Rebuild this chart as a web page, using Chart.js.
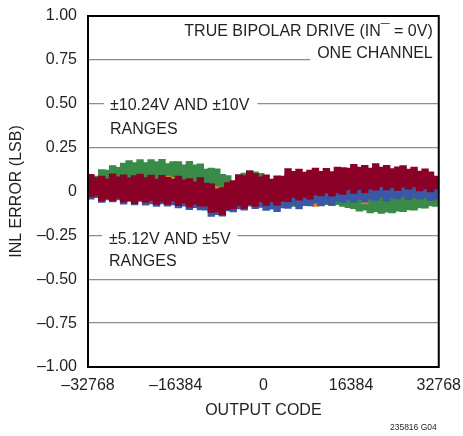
<!DOCTYPE html>
<html><head><meta charset="utf-8">
<script src="https://cdn.jsdelivr.net/npm/chart.js@4.4.1/dist/chart.umd.min.js"></script>
<style>html,body{margin:0;padding:0;background:#fff;}canvas{display:block;}</style>
</head><body>
<canvas id="c" width="463" height="436" style="width:463px;height:436px"></canvas>
<script>
// Output code bin centres (1024 codes per bin)
const codes = [-32256,-31232,-30208,-29184,-28160,-27136,-26112,-25088,-24064,-23040,-22016,-20992,-19968,-18944,-17920,-16896,
  -15872,-14848,-13824,-12800,-11776,-10752,-9728,-8704,-7680,-6656,-5632,-4608,-3584,-2560,-1536,-512,
  512,1536,2560,3584,4608,5632,6656,7680,8704,9728,10752,11776,12800,13824,14848,15872,
  16896,17920,18944,19968,20992,22016,23040,24064,25088,26112,27136,28160,29184,30208,31232,32256];

// INL error bands (LSB): min / max per bin
const crimsonHi = [0.097,0.079,0.087,0.072,0.100,0.083,0.095,0.078, 0.090,0.099,0.079,0.093,0.071,0.092,0.081,0.071,
  0.087,0.066,0.073,0.054,0.079,0.047,0.043,0.015, 0.022,0.051,0.062,0.096,0.091,0.117,0.101,0.083,
  0.095,0.071,0.089,0.088,0.130,0.115,0.128,0.110, 0.122,0.133,0.115,0.131,0.113,0.139,0.136,0.133,
  0.155,0.139,0.149,0.133,0.158,0.139,0.149,0.130, 0.140,0.148,0.127,0.139,0.116,0.129,0.111,0.088];
const crimsonLo = [-0.030,-0.024,-0.055,-0.041,-0.053,-0.038,-0.061,-0.052, -0.069,-0.051,-0.062,-0.050,-0.073,-0.059,-0.073,-0.055,
  -0.080,-0.066,-0.089,-0.072,-0.083,-0.083,-0.119,-0.116, -0.133,-0.101,-0.099,-0.080,-0.096,-0.075,-0.084,-0.059,
  -0.079,-0.059,-0.077,-0.054,-0.057,-0.034,-0.049,-0.033, -0.043,-0.019,-0.025,-0.008,-0.026,-0.007,-0.016,0.009,
  -0.010,0.011,-0.007,0.014,0.008,0.028,0.010,0.022, 0.006,0.025,0.014,0.026,0.004,0.015,-0.002,0.013];
const blueHi = [0.02,0.02,0.01,0.01,0.01,0.01,0.00,0.00, 0.00,0.00,0.00,-0.01,-0.01,-0.01,-0.01,-0.02,
  -0.02,-0.02,-0.03,-0.03,-0.03,-0.05,-0.06,-0.07, -0.07,-0.06,-0.05,-0.04,-0.04,-0.03,-0.03,-0.02,
  -0.02,-0.02,-0.02,-0.01,-0.01,0.00,0.00,0.01, 0.01,0.02,0.02,0.02,0.03,0.03,0.03,0.04,
  0.04,0.04,0.05,0.05,0.05,0.05,0.05,0.05, 0.05,0.05,0.05,0.05,0.05,0.05,0.04,0.04];
const blueLo = [-0.043,-0.035,-0.062,-0.048,-0.059,-0.047,-0.072,-0.056, -0.076,-0.056,-0.078,-0.070,-0.085,-0.070,-0.083,-0.076,
  -0.093,-0.083,-0.103,-0.092,-0.104,-0.106,-0.142,-0.131, -0.140,-0.110,-0.116,-0.099,-0.106,-0.083,-0.097,-0.091,
  -0.108,-0.100,-0.115,-0.093,-0.096,-0.079,-0.099,-0.078, -0.082,-0.066,-0.082,-0.069,-0.077,-0.055,-0.062,-0.049,
  -0.060,-0.045,-0.060,-0.044,-0.050,-0.033,-0.055,-0.036, -0.042,-0.028,-0.046,-0.035,-0.044,-0.034,-0.051,-0.044];
const orangeHi = [0.07,0.06,0.06,0.05,0.07,0.06,0.07,0.06, 0.07,0.07,0.06,0.07,0.05,0.07,0.088,0.08,
  0.06,0.05,0.05,0.04,0.05,0.03,0.03,0.028, 0.00,0.03,0.04,0.07,0.07,0.09,0.08,0.06,
  0.07,0.05,0.07,0.07,0.10,0.09,0.10,0.09, 0.10,0.10,0.09,0.10,0.09,0.11,0.11,0.11,
  0.12,0.11,0.12,0.11,0.12,0.11,0.12,0.10, 0.11,0.12,0.10,0.11,0.09,0.10,0.09,0.07];
const orangeLo = [-0.01,-0.01,-0.03,-0.02,-0.03,-0.02,-0.04,-0.03, -0.05,-0.03,-0.04,-0.03,-0.05,-0.04,-0.05,-0.03,
  -0.06,-0.04,-0.07,-0.05,-0.06,-0.06,-0.10,-0.09, -0.11,-0.08,-0.08,-0.06,-0.07,-0.05,-0.06,-0.04,
  -0.06,-0.04,-0.05,-0.03,-0.03,-0.01,-0.03,-0.01, -0.02,-0.085,0.00,0.01,0.00,0.01,0.00,0.03,
  0.01,0.03,-0.07,0.03,0.03,0.05,0.03,0.04, 0.03,0.05,0.03,0.05,0.03,0.04,0.02,0.03];
const greenHi = [0.091,0.088,0.125,0.121,0.147,0.137,0.161,0.176, 0.165,0.181,0.164,0.182,0.170,0.183,0.159,0.170,
  0.170,0.152,0.172,0.151,0.157,0.127,0.133,0.129, 0.098,0.090,0.058,0.088,0.105,0.118,0.112,0.103,
  0.070,0.03,0.03,0.02,0.02,0.02,0.01,0.01, 0.01,0.01,0.00,0.00,0.00,0.00,-0.01,-0.01,
  -0.01,-0.01,-0.01,-0.01,-0.01,-0.01,-0.01,-0.01, -0.01,-0.01,-0.01,-0.01,-0.01,-0.01,-0.01,-0.01];
const greenLo = [0.00,0.00,0.00,0.00,0.00,0.00,0.00,0.00, 0.00,0.00,0.00,0.00,0.00,0.00,0.00,0.00,
  0.00,0.00,0.00,0.00,0.00,0.00,0.00,0.00, 0.00,0.00,0.00,0.00,0.00,0.00,0.00,0.00,
  0.00,-0.090,-0.090,-0.085,-0.085,-0.085,-0.085,-0.080, -0.080,-0.075,-0.078,-0.075,-0.080,-0.075,-0.085,-0.092,
  -0.097,-0.112,-0.106,-0.121,-0.114,-0.125,-0.117,-0.121, -0.112,-0.114,-0.104,-0.106,-0.093,-0.095,-0.082,-0.085];

const xTickValues = [-32768,-16384,0,16384,32768];
const xTickLabels = ['\u201332768','\u201316384','0','16384','32768'];
const yTickValues = [-1,-0.75,-0.5,-0.25,0,0.25,0.5,0.75,1];
const yTickLabels = ['\u20131.00','\u20130.75','\u20130.50','\u20130.25','0','0.25','0.50','0.75','1.00'];

const FONT = '"Liberation Sans", Arial, Helvetica, sans-serif';
const TXT = '#231f20';
const CLEAR = 'rgba(0,0,0,0)';

function band(lo, hi){ return codes.map((c,i)=>({x:c, y:[lo[i], hi[i]]})); }
function lookup(vals, labels, v){ const i = vals.findIndex(t=>Math.abs(t-v)<1e-6); return i>=0 ? labels[i] : ''; }

const annot = {
  id:'annot',
  beforeDatasetsDraw(chart){
    const {ctx, chartArea:a, scales:{y}} = chart;
    ctx.save();
    ctx.font = '16px ' + FONT;
    ctx.textBaseline = 'middle';
    const g75 = y.getPixelForValue(0.75), g50 = y.getPixelForValue(0.5), gm25 = y.getPixelForValue(-0.25);
    const t1 = 'TRUE BIPOLAR DRIVE (IN\u00AF = 0V)', t2 = 'ONE CHANNEL';
    const rx = a.right - 6;
    const w2 = ctx.measureText(t2).width;
    ctx.fillStyle = '#fff';
    ctx.fillRect(rx - w2 - 7, g75 - 3, a.right - (rx - w2 - 7) - 1, 6);
    const s1 = '\u00B110.24V AND \u00B110V', s2 = '\u00B15.12V AND \u00B15V';
    const lx = a.left + 22;
    const ws1 = ctx.measureText(s1).width, ws2 = ctx.measureText(s2).width;
    ctx.fillRect(lx - 6, g50 - 3, ws1 + 14, 6);
    ctx.fillRect(lx - 8, gm25 - 3, ws2 + 14, 6);
    ctx.fillStyle = TXT;
    ctx.textAlign = 'right';
    ctx.fillText(t1, rx, g75 - 28);
    ctx.fillText(t2, rx, g75 - 6);
    ctx.textAlign = 'left';
    ctx.fillText(s1, lx, g50 + 2);
    ctx.fillText('RANGES', lx, g50 + 26);
    ctx.fillText(s2, lx - 1, gm25 + 4);
    ctx.fillText('RANGES', lx - 1, gm25 + 26);
    ctx.restore();
  },
  afterDatasetsDraw(chart){
    const {ctx, chartArea:a} = chart;
    ctx.save();
    ctx.strokeStyle = '#000';
    ctx.lineWidth = 2;
    ctx.strokeRect(a.left, a.top, a.right - a.left, a.bottom - a.top);
    ctx.restore();
  },
  afterDraw(chart){
    const {ctx, chartArea:a} = chart;
    ctx.save();
    ctx.font = '8.5px ' + FONT;
    ctx.fillStyle = TXT;
    ctx.textAlign = 'right';
    ctx.textBaseline = 'middle';
    ctx.fillText('235816 G04', a.right - 2, 428);
    ctx.restore();
  }
};

const common = {grouped:false, barThickness:6.6, borderWidth:0, inflateAmount:0.4};

new Chart(document.getElementById('c'), {
  type:'bar',
  data:{
    datasets:[
      Object.assign({label:'Series 1', data:band(crimsonLo, crimsonHi), backgroundColor:'#8b0027'}, common),
      Object.assign({label:'Series 2', data:band(blueLo, blueHi), backgroundColor:'#3b58a6'}, common),
      Object.assign({label:'Series 3', data:band(orangeLo, orangeHi), backgroundColor:'#d8822c'}, common),
      Object.assign({label:'Series 4', data:band(greenLo, greenHi), backgroundColor:'#3a8a48'}, common)
    ]
  },
  options:{
    responsive:false,
    animation:false,
    devicePixelRatio:1,
    layout:{padding:{left:0, right:24, top:16, bottom:0}},
    plugins:{legend:{display:false}, tooltip:{enabled:false}},
    scales:{
      x:{
        type:'linear', min:-32768, max:32768, offset:false,
        grid:{display:true, color:CLEAR, drawTicks:true, tickLength:7, tickColor:CLEAR}, border:{display:false},
        ticks:{stepSize:16384, autoSkip:false, maxRotation:0, padding:2, color:TXT, font:{family:FONT, size:16},
          callback:(v)=>lookup(xTickValues, xTickLabels, v)},
        title:{display:true, text:'OUTPUT CODE', color:TXT, font:{family:FONT, size:16}, padding:{top:0, bottom:16}},
        afterFit:(s)=>{ s.height = 69; }
      },
      y:{
        min:-1, max:1,
        grid:{color:'#8d8d8d', lineWidth:1.3, drawTicks:true, tickLength:9, tickColor:CLEAR}, border:{display:false},
        ticks:{stepSize:0.25, padding:2, color:TXT, font:{family:FONT, size:16},
          callback:(v)=>lookup(yTickValues, yTickLabels, v)},
        title:{display:true, text:'INL ERROR (LSB)', color:TXT, font:{family:FONT, size:16}, padding:{top:7, bottom:0}},
        afterFit:(s)=>{ s.width = 88; }
      }
    }
  },
  plugins:[annot]
});
</script>
</body></html>
